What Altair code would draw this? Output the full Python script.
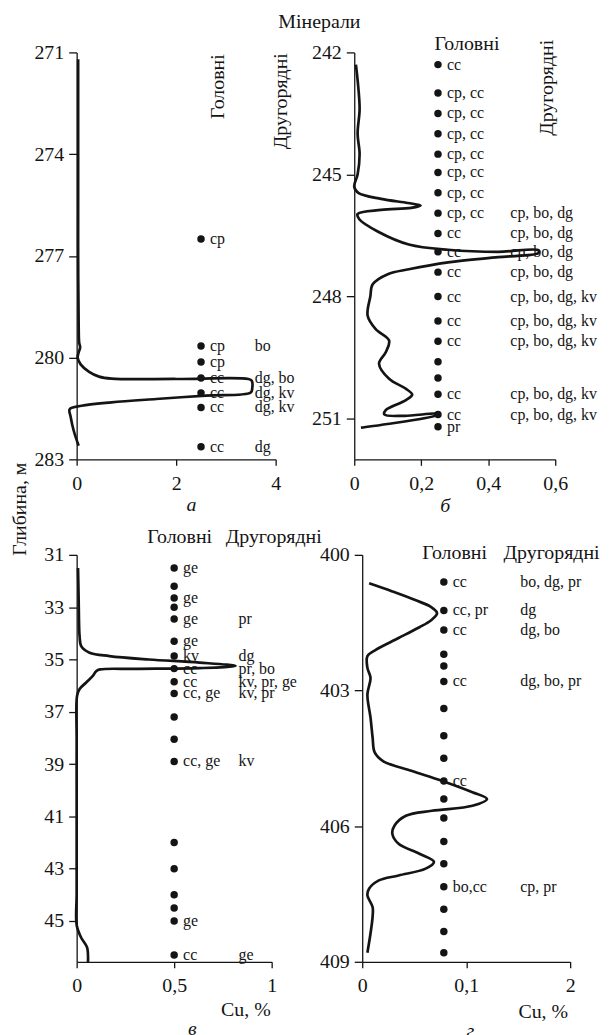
import altair as alt
import pandas as pd

FONT = "Liberation Serif"
INK = "#141414"

# ---------------- panel а : depth 271-283 m, Cu 0-4 % ----------------
a_curve_depth = [271.2, 273.0, 275.0, 277.0, 279.0, 279.55, 279.7, 279.85, 280.0, 280.2,
                 280.42, 280.56, 280.62, 280.63, 280.63, 280.68, 280.9, 281.03, 281.12,
                 281.22, 281.32, 281.42, 281.52, 281.75, 282.15, 282.6]
a_curve_cu = [0.03, 0.03, 0.03, 0.03, 0.04, 0.05, 0.07, 0.04, 0.02, 0.08,
              0.25, 0.45, 0.7, 2.0, 3.45, 3.52, 3.53, 3.5, 2.6,
              1.6, 0.7, 0.1, -0.14, -0.12, -0.06, 0.04]
a_dot_depth = [276.5, 279.66, 280.13, 280.6, 281.04, 281.47, 282.63]
a_main = ["cp", "cp", "cp", "cc", "cc", "cc", "cc"]
a_sec = ["", "bo", "", "dg, bo", "dg, kv", "dg, kv", "dg"]
a_xticks = [0, 2, 4]
a_xlabels = ["0", "2", "4"]
a_yticks = [271, 274, 277, 280, 283]

# ---------------- panel б : depth 242-252 m, Cu 0-0.6 % ----------------
b_curve_depth = [242.3, 242.85, 243.4, 244.0, 244.5, 245.0, 245.3, 245.45, 245.6, 245.7,
                 245.76, 245.82, 245.87, 245.97, 246.1, 246.4, 246.72, 246.85, 246.9,
                 246.86, 246.93, 247.03, 247.16, 247.33, 247.45, 247.7, 248.0, 248.47,
                 248.8, 249.08, 249.37, 249.65, 250.02, 250.26, 250.41, 250.55, 250.79,
                 250.9, 250.93, 250.88, 250.92, 251.22]
b_curve_cu = [0.005, 0.012, 0.016, 0.01, 0.016, 0.01, 0.0, 0.012, 0.08, 0.16,
              0.198, 0.17, 0.08, 0.01, 0.015, 0.07, 0.163, 0.28, 0.43,
              0.55, 0.55, 0.43, 0.28, 0.163, 0.1, 0.055, 0.048, 0.04,
              0.064, 0.104, 0.094, 0.074, 0.104, 0.153, 0.173, 0.153, 0.094,
              0.09, 0.15, 0.25, 0.245, 0.02]
b_dot_depth = [242.3, 243.0, 243.5, 244.0, 244.5, 244.95, 245.45, 245.95, 246.45, 246.9,
               247.4, 248.0, 248.6, 249.1, 249.6, 250.0, 250.4, 250.9, 251.2]
b_main = ["cc", "cp, cc", "cp, cc", "cp, cc", "cp, cc", "cp, cc", "cp, cc", "cp, cc",
          "cc", "cc", "cc", "cc", "cc", "cc", "", "", "cc", "cc", "pr"]
b_sec = ["", "", "", "", "", "", "", "cp, bo, dg", "cp, bo, dg", "cp, bo, dg", "cp, bo, dg",
         "cp, bo, dg, kv", "cp, bo, dg, kv", "cp, bo, dg, kv", "", "",
         "cp, bo, dg, kv", "cp, bo, dg, kv", ""]
b_xticks = [0, 0.2, 0.4, 0.6]
b_xlabels = ["0", "0,2", "0,4", "0,6"]
b_yticks = [242, 245, 248, 251]

# ---------------- panel в : depth 31-46.6 m, Cu 0-1 % ----------------
c_curve_depth = [31.5, 32.6, 33.5, 34.1, 34.5, 34.74, 34.87, 35.0, 35.12, 35.25, 35.33,
                 35.36, 35.38, 35.45, 35.63, 35.88, 36.13, 36.4, 38.0, 40.0, 42.0, 44.0,
                 45.15, 45.65, 46.0, 46.6]
c_curve_cu = [0.007, 0.01, 0.012, 0.015, 0.024, 0.066, 0.168, 0.37, 0.63, 0.815, 0.63,
              0.3, 0.12, 0.1, 0.083, 0.049, 0.015, 0.002, 0.0, 0.0, 0.0, 0.0,
              0.0, 0.024, 0.053, 0.058]
c_dot_depth = [31.5, 32.2, 32.65, 33.0, 33.45, 34.3, 34.87, 35.35, 35.85, 36.3, 37.2,
               38.05, 38.9, 42.0, 43.0, 44.0, 44.5, 45.0, 46.3]
c_main = ["ge", "", "ge", "", "ge", "ge", "kv", "cc", "cc", "cc, ge", "", "", "cc, ge",
          "", "", "", "", "ge", "cc"]
c_sec = ["", "", "", "", "pr", "", "dg", "pr, bo", "kv, pr, ge", "kv, pr", "", "", "kv",
         "", "", "", "", "", "ge"]
c_xticks = [0, 0.5, 1]
c_xlabels = ["0", "0,5", "1"]
c_yticks = [31, 33, 35, 37, 39, 41, 43, 45]

# ---------------- panel г : depth 400-409 m, Cu 0-0.2 % ----------------
d_curve_depth = [400.63, 400.81, 401.0, 401.15, 401.29, 401.45, 401.6, 401.84, 402.1, 402.24,
                 402.5, 402.72, 403.09, 403.6, 404.04, 404.37, 404.56, 404.78, 405.0, 405.25,
                 405.4, 405.55, 405.66, 405.77, 405.99, 406.17, 406.39, 406.61, 406.79,
                 406.94, 407.09, 407.2, 407.38, 407.53, 407.79, 408.0, 408.37, 408.8]
d_curve_cu = [0.0067, 0.029, 0.051, 0.066, 0.072, 0.066, 0.055, 0.035, 0.013, 0.005,
              0.005, 0.008, 0.005, 0.008, 0.01, 0.012, 0.02, 0.048, 0.077, 0.106,
              0.12, 0.106, 0.067, 0.042, 0.031, 0.029, 0.035, 0.055, 0.069,
              0.061, 0.035, 0.016, 0.0067, 0.005, 0.01, 0.01, 0.008, 0.005]
d_dot_depth = [400.6, 401.23, 401.66, 402.2, 402.46, 402.8, 403.4, 404.0, 404.5, 405.0,
               405.4, 405.82, 406.34, 406.83, 407.34, 407.84, 408.33, 408.8]
d_main = ["cc", "cc, pr", "cc", "", "", "cc", "", "", "", "cc", "", "", "", "",
          "bo,cc", "", "", ""]
d_sec = ["bo, dg, pr", "dg", "dg, bo", "", "", "dg, bo, pr", "", "", "", "", "", "", "",
         "", "cp, pr", "", "", ""]
d_xticks = [0, 0.1, 0.2]
d_xlabels = ["0", "0,1", "2"]
d_yticks = [400, 403, 406, 409]


def label_expr(vals, labels):
    expr = "''"
    for v, l in reversed(list(zip(vals, labels))):
        expr = f"abs(datum.value - {v}) < 1e-9 ? '{l}' : {expr}"
    return expr


def panel(curve_depth, curve_cu, dot_depth, main, sec, dot_x, sec_x,
          xdom, ydom, xticks, xlabels, yticks, width, height, notes,
          xrange=None, yoffset=0):
    xkw = dict(domain=xdom, nice=False, zero=False)
    if xrange is not None:
        xkw["range"] = xrange
    xs = alt.Scale(**xkw)
    ys = alt.Scale(domain=ydom, nice=False, zero=False, reverse=True)
    xaxis = alt.Axis(values=xticks, labelExpr=label_expr(xticks, xlabels), title=None,
                     tickSize=6, labelPadding=8, labelFlush=False, labelOverlap=False)
    yaxis = alt.Axis(values=yticks, title=None, tickSize=8, labelPadding=5,
                     labelFlush=False, labelOverlap=False, offset=yoffset)

    def X(f):
        return alt.X(f, type="quantitative", scale=xs, axis=xaxis)

    def Y(f):
        return alt.Y(f, type="quantitative", scale=ys, axis=yaxis)

    curve = pd.DataFrame({"i": list(range(len(curve_depth))),
                          "depth": curve_depth, "cu": curve_cu})
    line = alt.Chart(curve).mark_line(
        interpolate="catmull-rom", color=INK, strokeWidth=2.7
    ).encode(x=X("cu"), y=Y("depth"), order=alt.Order("i:Q"))

    n = len(dot_depth)
    dots_df = pd.DataFrame({"depth": dot_depth, "main": main, "sec": sec,
                            "pos": [dot_x] * n, "spos": [sec_x] * n})
    dots = alt.Chart(dots_df).mark_circle(size=56, color=INK, opacity=1).encode(
        x=X("pos"), y=Y("depth"))
    mains = alt.Chart(dots_df).mark_text(
        align="left", baseline="middle", dx=9, fontSize=16, font=FONT, color=INK
    ).encode(x=X("pos"), y=Y("depth"), text="main:N")
    secs = alt.Chart(dots_df).mark_text(
        align="left", baseline="middle", fontSize=16, font=FONT, color=INK
    ).encode(x=X("spos"), y=Y("depth"), text="sec:N")

    layers = [line, dots, mains, secs]
    for nt in notes:
        df = pd.DataFrame({"x": [nt["x"]], "y": [nt["y"]], "text": [nt["text"]]})
        mk = dict(align=nt.get("align", "center"), baseline="middle",
                  fontSize=nt.get("size", 20), font=FONT, color=INK)
        if nt.get("angle"):
            mk["angle"] = nt["angle"]
        if nt.get("italic"):
            mk["fontStyle"] = "italic"
        layers.append(alt.Chart(df).mark_text(**mk).encode(
            x=X("x"), y=Y("y"), text="text:N"))
    return alt.layer(*layers).properties(width=width, height=height)


a_notes = [
    {"x": 4.88, "y": 270.09, "text": "Мінерали"},
    {"x": 2.84, "y": 272.01, "text": "Головні", "angle": 270},
    {"x": 4.10, "y": 272.44, "text": "Другорядні", "angle": 270},
    {"x": 2.31, "y": 284.35, "text": "а", "italic": True},
    {"x": -1.14, "y": 284.47, "text": "Глибина, м", "angle": 270},
]
b_notes = [
    {"x": 0.3366, "y": 241.79, "text": "Головні"},
    {"x": 0.576, "y": 242.87, "text": "Другорядні", "angle": 270},
    {"x": 0.272, "y": 253.15, "text": "б", "italic": True},
]
c_notes = [
    {"x": 0.362, "y": 30.3, "text": "Головні", "align": "left"},
    {"x": 0.764, "y": 30.3, "text": "Другорядні", "align": "left"},
    {"x": 0.995, "y": 48.4, "text": "Cu, %", "align": "right"},
    {"x": 0.593, "y": 49.13, "text": "в", "italic": True},
]
d_notes = [
    {"x": 0.0577, "y": 399.97, "text": "Головні", "align": "left"},
    {"x": 0.1359, "y": 399.97, "text": "Другорядні", "align": "left"},
    {"x": 0.198, "y": 410.11, "text": "Cu, %", "align": "right"},
    {"x": 0.104, "y": 410.53, "text": "г", "italic": True},
]

pa = panel(a_curve_depth, a_curve_cu, a_dot_depth, a_main, a_sec, 2.5, 3.58,
           [0, 4], [271, 283], a_xticks, a_xlabels, a_yticks, 200, 409, a_notes)
pb = panel(b_curve_depth, b_curve_cu, b_dot_depth, b_main, b_sec, 0.25, 0.466,
           [0, 0.6], [242, 252], b_xticks, b_xlabels, b_yticks, 202, 409, b_notes)
pc = panel(c_curve_depth, c_curve_cu, c_dot_depth, c_main, c_sec, 0.5, 0.83,
           [0, 1], [31, 46.56], c_xticks, c_xlabels, c_yticks, 196, 409, c_notes)
pd_ = panel(d_curve_depth, d_curve_cu, d_dot_depth, d_main, d_sec, 0.0785, 0.152,
            [0, 0.2], [400, 409], d_xticks, d_xlabels, d_yticks, 217, 409, d_notes,
            xrange=[8, 217], yoffset=-8)

chart = alt.concat(
    pa, pb, pc, pd_, columns=2, spacing={"row": 96, "column": 79},
    bounds="flush", align="each"
).properties(
    padding={"left": 1, "top": 0, "right": 0, "bottom": 0}
).configure_view(
    stroke="transparent"
).configure_axis(
    domainColor=INK, tickColor=INK, labelColor=INK, labelFont=FONT, labelFontSize=20,
    domainWidth=1.3, tickWidth=1.3, grid=False
).configure_text(font=FONT, color=INK)

chart.save("out.html", embed_options={"renderer": "svg", "actions": False})
